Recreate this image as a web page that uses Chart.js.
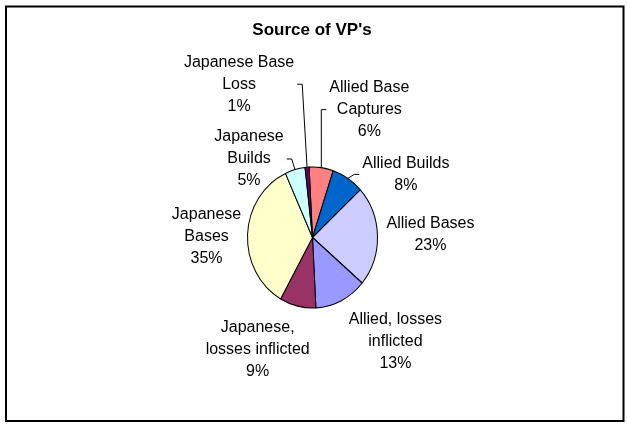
<!DOCTYPE html>
<html>
<head>
<meta charset="utf-8">
<script src="https://cdn.jsdelivr.net/npm/chart.js@4/dist/chart.umd.min.js"></script>
<style>
  html, body { margin: 0; padding: 0; background: #fff; }
  #wrap { width: 627px; height: 434px; position: relative; }
</style>
</head>
<body>
<div id="wrap"><canvas id="c" width="627" height="434"></canvas></div>
<script>
// ---- data ----
const titleText = "Source of VP's";
const categories = [
  "Allied Base Captures", "Allied Builds", "Allied Bases", "Allied, losses inflicted",
  "Japanese, losses inflicted", "Japanese Bases", "Japanese Builds", "Japanese Base Loss"
];
const shares = [6, 8, 23, 13, 9, 35, 5, 1];
const labelLines = [
  ["Allied Base", "Captures"], ["Allied Builds"], ["Allied Bases"], ["Allied, losses", "inflicted"],
  ["Japanese,", "losses inflicted"], ["Japanese", "Bases"], ["Japanese", "Builds"], ["Japanese Base", "Loss"]
];

// ---- styles / layout ----
const sliceColors = ["#FF8080", "#0066CC", "#CCCCFF", "#9999FF", "#993366", "#FFFFCC", "#CCFFFF", "#660066"];
const yStretch = 70.5 / 65;               // reference pie is slightly taller than wide
const labelLayout = [                      // label centre offset from slice's outer mid point
  { dx: 48, dy: -58, leader: true },
  { dx: 58, dy: -4, leader: true },
  { dx: 53, dy: -1.5, leader: false },
  { dx: 54, dy: 41, leader: false },
  { dx: -40, dy: 43, leader: false },
  { dx: -41, dy: 2.5, leader: false },
  { dx: -46, dy: -10.6, leader: true },
  { dx: -68, dy: -83, leader: true }
];
const FONT = '"Liberation Sans", Arial, sans-serif';

const total = shares.reduce((a, b) => a + b, 0);

const ellipsePlugin = {
  id: 'ellipse',
  beforeDatasetsDraw(chart) {
    const arc = chart.getDatasetMeta(0).data[0];
    const ctx = chart.ctx;
    ctx.save();
    ctx.translate(arc.x, arc.y);
    ctx.scale(1, yStretch);
    ctx.translate(-arc.x, -arc.y);
  },
  afterDatasetsDraw(chart) {
    chart.ctx.restore();
  }
};

const decorPlugin = {
  id: 'decor',
  beforeDraw(chart) {
    const ctx = chart.ctx;
    ctx.save();
    ctx.fillStyle = '#fff';
    ctx.fillRect(0, 0, chart.width, chart.height);
    ctx.restore();
  },
  afterDraw(chart) {
    const ctx = chart.ctx;
    ctx.save();
    // frame
    ctx.strokeStyle = '#000';
    ctx.lineWidth = 2;
    ctx.strokeRect(6, 6.5, 617.5, 414.5);
    // title
    ctx.fillStyle = '#000';
    ctx.font = 'bold 17px ' + FONT;
    ctx.textAlign = 'center';
    ctx.textBaseline = 'middle';
    ctx.fillText(titleText, 312, 30);

    // labels
    const meta = chart.getDatasetMeta(0);
    ctx.font = '16px ' + FONT;
    const lh = 22;
    meta.data.forEach((arc, i) => {
      const mid = (arc.startAngle + arc.endAngle) / 2;
      const R = arc.outerRadius;
      const ax = arc.x + Math.cos(mid) * R;
      const ay = arc.y + Math.sin(mid) * R * yStretch;
      const lay = labelLayout[i];
      const cx = ax + lay.dx, cy = ay + lay.dy;
      const pct = Math.round(shares[i] / total * 100) + '%';
      const lines = labelLines[i].concat([pct]);
      const n = lines.length;
      let w = 0;
      lines.forEach(t => { w = Math.max(w, ctx.measureText(t).width); });
      ctx.fillStyle = '#000';
      lines.forEach((t, k) => {
        ctx.fillText(t, cx, cy + (k - (n - 1) / 2) * lh);
      });
      if (lay.leader) {
        const half = w / 2 + 3;
        const sx = cx > ax ? cx - half : cx + half;
        const tx = cx > ax ? sx - 5 : sx + 5;
        ctx.strokeStyle = '#000';
        ctx.lineWidth = 1;
        ctx.beginPath();
        ctx.moveTo(sx, cy);
        ctx.lineTo(tx, cy);
        ctx.lineTo(ax, ay);
        ctx.stroke();
      }
    });
    ctx.restore();
  }
};

new Chart(document.getElementById('c'), {
  type: 'pie',
  data: {
    labels: categories,
    datasets: [{
      data: shares,
      backgroundColor: sliceColors,
      borderColor: '#000',
      borderWidth: 1,
      hoverOffset: 0
    }]
  },
  options: {
    responsive: false,
    animation: false,
    events: [],
    rotation: -3,
    radius: 65,
    layout: { padding: { left: 0, right: 2, top: 41, bottom: 0 } },
    plugins: {
      legend: { display: false },
      title: { display: false },
      tooltip: { enabled: false }
    }
  },
  plugins: [decorPlugin, ellipsePlugin]
});
</script>
</body>
</html>
